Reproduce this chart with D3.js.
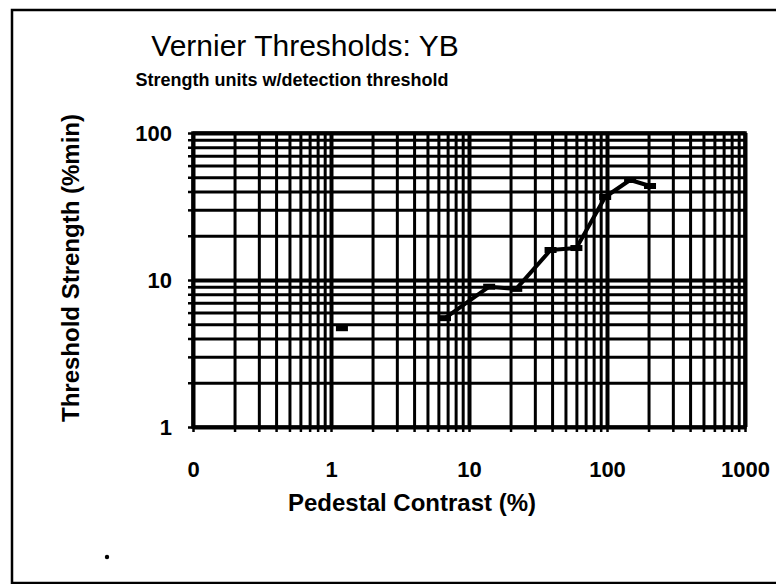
<!DOCTYPE html>
<html>
<head>
<meta charset="utf-8">
<script src="https://cdn.jsdelivr.net/npm/d3@7"></script>
<style>
  body { margin: 0; background: #fff; }
  svg text { font-family: "Liberation Sans", Arial, sans-serif; fill: #000; }
</style>
</head>
<body>
<div id="chart"></div>
<script>
// data
const pedestal = [6.7, 14, 22, 39, 60, 97, 147, 205];
const threshold = [5.5, 9.0, 8.7, 16.0, 16.5, 36.7, 47.9, 43.6];
const loneX = [1.2];
const loneY = [4.7];
const xDecades = [0.1, 1, 10, 100, 1000];
const yDecades = [1, 10, 100];

const W = 776, H = 584;
const plotL = 193, plotR = 745, plotT = 133, plotB = 427;

const svg = d3.select("#chart").append("svg")
    .attr("width", W).attr("height", H);

// outer chart frame (runs off the right edge)
svg.append("rect")
    .attr("x", 12).attr("y", 10)
    .attr("width", 820).attr("height", 573)
    .attr("fill", "none").attr("stroke", "#000").attr("stroke-width", 2.5);

const x = d3.scaleLog().domain([0.1, 1000]).range([plotL, plotR]);
const y = d3.scaleLog().domain([1, 100]).range([plotB, plotT]);

// every 1..9 step of each decade
const logSteps = (lo, hi) => {
    const out = [];
    for (let d = lo; d < hi; d *= 10) {
        for (let k = 1; k < 10; k++) out.push(+(d * k).toPrecision(3));
    }
    out.push(hi);
    return out;
};
const xTicks = logSteps(0.1, 1000);
const yTicks = logSteps(1, 100);

// --- grid (drawn through the axes) ---
const xGrid = svg.append("g")
    .attr("transform", `translate(0,${plotB})`)
    .call(d3.axisBottom(x).tickValues(xTicks).tickSize(-(plotB - plotT)).tickFormat(""));
const yGrid = svg.append("g")
    .attr("transform", `translate(${plotL},0)`)
    .call(d3.axisLeft(y).tickValues(yTicks).tickSize(-(plotR - plotL)).tickFormat(""));

[xGrid, yGrid].forEach(g => {
    g.select(".domain").remove();
    g.selectAll("line")
        .attr("stroke", "#000")
        .attr("stroke-width", d => xDecades.includes(d) || yDecades.includes(d) ? 4 : 3);
});

// small outside tick marks
svg.append("g")
    .attr("transform", `translate(0,${plotB})`)
    .call(d3.axisBottom(x).tickValues(xTicks).tickSize(5).tickFormat(""))
    .call(g => g.select(".domain").remove())
    .selectAll("line").attr("stroke", "#000").attr("stroke-width", 2.5);
svg.append("g")
    .attr("transform", `translate(${plotL},0)`)
    .call(d3.axisLeft(y).tickValues(yTicks).tickSize(5).tickFormat(""))
    .call(g => g.select(".domain").remove())
    .selectAll("line").attr("stroke", "#000").attr("stroke-width", 2.5);

// plot border
svg.append("rect")
    .attr("x", plotL).attr("y", plotT)
    .attr("width", plotR - plotL).attr("height", plotB - plotT)
    .attr("fill", "none").attr("stroke", "#000").attr("stroke-width", 3.5);

// --- tick labels ---
const xLab = svg.append("g")
    .attr("transform", `translate(0,${plotB})`)
    .call(d3.axisBottom(x).tickValues(xDecades).tickSize(0).tickPadding(34)
        .tickFormat(d => d < 1 ? "0" : d3.format("d")(d)));
xLab.select(".domain").remove();
xLab.selectAll("text").attr("font-size", 22).attr("font-weight", "bold");

const yLab = svg.append("g")
    .attr("transform", `translate(${plotL},0)`)
    .call(d3.axisLeft(y).tickValues(yDecades).tickSize(0).tickPadding(21)
        .tickFormat(d3.format("d")));
yLab.select(".domain").remove();
yLab.selectAll("text").attr("font-size", 22).attr("font-weight", "bold");

// --- data ---
const pts = pedestal.map((p, i) => [p, threshold[i]]);
svg.append("path")
    .datum(pts)
    .attr("fill", "none")
    .attr("stroke", "#000")
    .attr("stroke-width", 4)
    .attr("stroke-linejoin", "round")
    .attr("d", d3.line().x(d => x(d[0])).y(d => y(d[1])));

const allPts = pts.concat(loneX.map((p, i) => [p, loneY[i]]));
svg.append("g").selectAll("rect")
    .data(allPts)
    .join("rect")
    .attr("x", d => x(d[0]) - 6)
    .attr("y", d => y(d[1]) - 3)
    .attr("width", 12)
    .attr("height", 6)
    .attr("fill", "#000");

// --- titles ---
svg.append("text")
    .attr("x", 305).attr("y", 56)
    .attr("text-anchor", "middle")
    .attr("font-size", 30)
    .text("Vernier Thresholds: YB");

svg.append("text")
    .attr("x", 292).attr("y", 86)
    .attr("text-anchor", "middle")
    .attr("font-size", 18)
    .attr("font-weight", "bold")
    .text("Strength units w/detection threshold");

svg.append("text")
    .attr("x", 412).attr("y", 511)
    .attr("text-anchor", "middle")
    .attr("font-size", 24)
    .attr("font-weight", "bold")
    .text("Pedestal Contrast (%)");

svg.append("text")
    .attr("transform", "translate(79,268) rotate(-90)")
    .attr("text-anchor", "middle")
    .attr("font-size", 24)
    .attr("font-weight", "bold")
    .text("Threshold Strength (%min)");

// stray dot near the bottom left
svg.append("circle")
    .attr("cx", 107).attr("cy", 557).attr("r", 2.2)
    .attr("fill", "#000");
</script>
</body>
</html>
